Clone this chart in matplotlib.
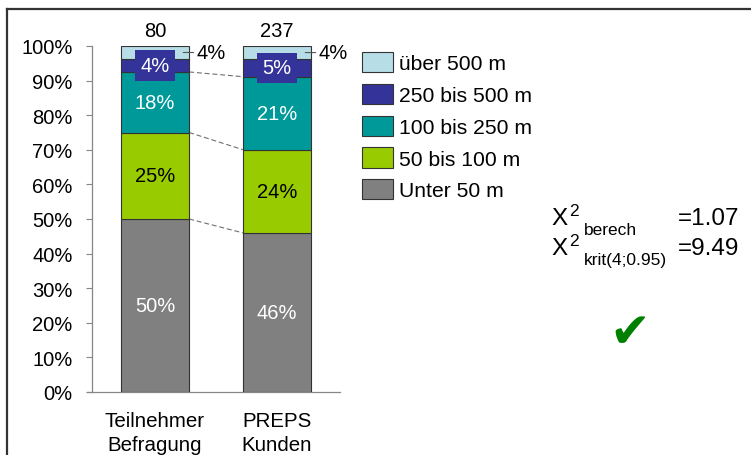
import matplotlib
matplotlib.use("Agg")
import matplotlib.pyplot as plt
from matplotlib.lines import Line2D

plt.rcParams["font.family"] = ["Liberation Sans", "DejaVu Sans"]

# Survey groups and distance classes (bottom to top of each stack)
groups = ["Teilnehmer\nBefragung", "PREPS\nKunden"]
classes = ["Unter 50 m", "50 bis 100 m", "100 bis 250 m", "250 bis 500 m", "über 500 m"]
counts_teilnehmer = [40, 20, 14, 3, 3]
counts_preps = [109, 57, 50, 12, 9]
colors = ["#808080", "#99CC00", "#009999", "#333399", "#B7DEE6"]
label_colors = ["white", "black", "white", "white", "black"]

chi2_berech = "1.07"
chi2_krit = "9.49"

W, H = 751, 456
fig = plt.figure(figsize=(W / 100, H / 100), dpi=100)


def fx(px):
    return px / W


def fy(py):
    return 1 - py / H


ax = fig.add_axes([fx(92), fy(393), (340 - 92) / W, (393 - 47) / H])

all_counts = [counts_teilnehmer, counts_preps]
pct = [[100 * c / sum(cs) for c in cs] for cs in all_counts]
xs = [0, 1]
bw = 0.56
fs = 14.5

bottoms = [0.0, 0.0]
tops_per_class = []
containers = []
for k, name in enumerate(classes):
    vals = [pct[g][k] for g in range(2)]
    bc = ax.bar(xs, vals, bw, bottom=bottoms, color=colors[k],
                edgecolor="#333333", linewidth=0.8, label=name, zorder=3)
    containers.append(bc)
    for g in range(2):
        mid = bottoms[g] + vals[g] / 2
        lab = f"{int(vals[g] + 0.5)}%"
        if k == len(classes) - 1:
            # top class labelled outside with a leader line
            ax.annotate(lab, xy=(xs[g] + bw / 2 - 0.06, mid),
                        xytext=(10.5, 0), textcoords="offset points",
                        ha="left", va="center", fontsize=fs, color="black",
                        arrowprops=dict(arrowstyle="-", color="#555555",
                                        lw=0.8, shrinkA=0, shrinkB=1),
                        zorder=5)
        elif k == 3:
            ax.text(xs[g], mid, lab, ha="center", va="center", fontsize=fs,
                    color="white", zorder=5,
                    bbox=dict(boxstyle="square,pad=0.28", fc=colors[k],
                              ec="none"))
        else:
            ax.text(xs[g], mid, lab, ha="center", va="center", fontsize=fs,
                    color=label_colors[k], zorder=5)
    bottoms = [bottoms[g] + vals[g] for g in range(2)]
    tops_per_class.append(list(bottoms))

# dashed series lines between the two stacks
for k in range(3):
    ax.plot([xs[0] + bw / 2, xs[1] - bw / 2],
            [tops_per_class[k][0], tops_per_class[k][1]],
            ls=(0, (4.5, 2.5)), color="#707070", lw=0.8, zorder=2)

# group totals above the bars
for g in range(2):
    ax.annotate(str(sum(all_counts[g])), xy=(xs[g], 100), xytext=(0, 7.5),
                textcoords="offset points", ha="center", va="baseline",
                fontsize=fs, color="black")

ax.set_xlim(-0.516, 1.516)
ax.set_ylim(0, 100)
ax.set_yticks(range(0, 101, 10))
ax.set_yticklabels([f"{v}%" for v in range(0, 101, 10)], fontsize=fs)
ax.set_xticks(xs)
ax.set_xticklabels(groups, fontsize=14.8, linespacing=1.33)
ax.tick_params(axis="y", direction="out", length=4, width=0.8,
               color="#868686", pad=10)
ax.tick_params(axis="x", length=0, pad=14)
for s in ["top", "right"]:
    ax.spines[s].set_visible(False)
for s in ["left", "bottom"]:
    ax.spines[s].set_color("#868686")
    ax.spines[s].set_linewidth(0.9)
ax.spines["bottom"].set_bounds(-0.556, 1.516)

# legend, top class first
lfs = 15.2
leg = ax.legend(handles=containers[::-1], labels=classes[::-1],
                loc="upper left", bbox_to_anchor=(fx(362), fy(53)),
                bbox_transform=fig.transFigure, frameon=False,
                fontsize=lfs, handlelength=1.47, handleheight=1.09,
                handletextpad=0.3, labelspacing=0.5, borderpad=0,
                borderaxespad=0)
for h in leg.legend_handles:
    h.set_edgecolor("#333333")
    h.set_linewidth(0.8)

# chi-square statistics
big, small = 17.5, 12.5
for base, sub, val in [(225, "berech", chi2_berech),
                       (255, "krit(4;0.95)", chi2_krit)]:
    fig.text(fx(551), fy(base), "X", fontsize=big, ha="left", va="baseline")
    fig.text(fx(569), fy(base - 9), "2", fontsize=small, ha="left",
             va="baseline")
    fig.text(fx(584), fy(base + 10), sub, fontsize=small, ha="left",
             va="baseline")
    fig.text(fx(709), fy(base), "=" + val, fontsize=big, ha="center",
             va="baseline")

fig.text(fx(630), fy(333), "\u2714", fontsize=35, color="#008000",
         ha="center", va="center", family="DejaVu Sans")

# outer frame
fig.add_artist(Line2D([fx(7), fx(7)], [fy(10), 0], color="#333333",
                      lw=1.6, transform=fig.transFigure))
fig.add_artist(Line2D([fx(7), 1], [fy(10), fy(10)], color="#333333",
                      lw=1.6, transform=fig.transFigure))

fig.savefig("out.png", dpi=100)
